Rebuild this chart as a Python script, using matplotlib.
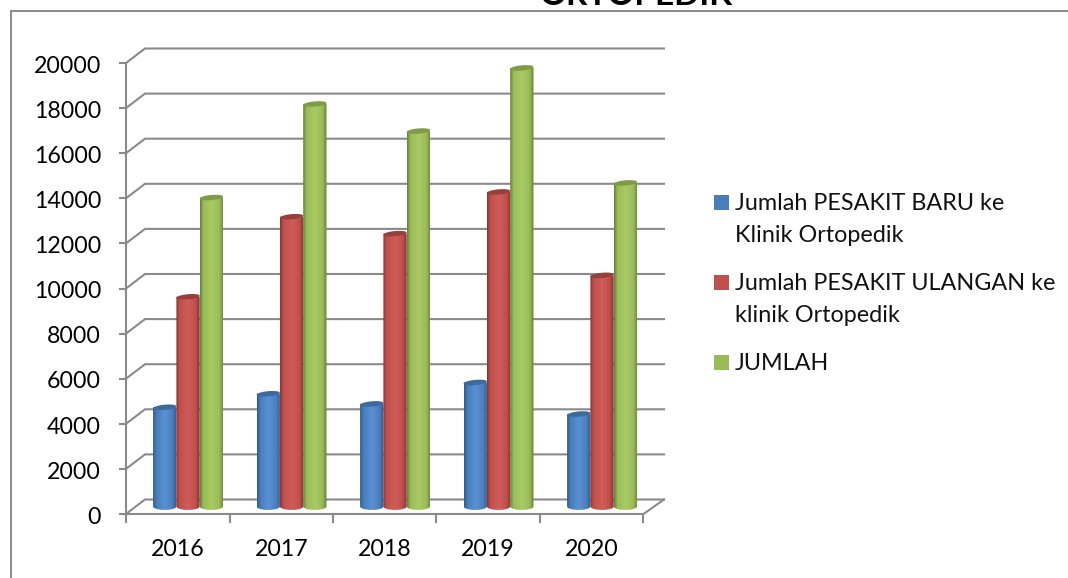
import numpy as np
import matplotlib
matplotlib.use("Agg")
import matplotlib.pyplot as plt
from matplotlib.path import Path
from matplotlib.patches import PathPatch, Rectangle
from matplotlib.colors import LinearSegmentedColormap

years = ["2016", "2017", "2018", "2019", "2020"]
baru = [4400, 5000, 4550, 5500, 4100]
ulangan = [9300, 12850, 12100, 13950, 10250]
jumlah = [13700, 17850, 16650, 19450, 14350]
series_names = ["Jumlah PESAKIT BARU ke\nKlinik Ortopedik",
                "Jumlah PESAKIT ULANGAN ke\nklinik Ortopedik",
                "JUMLAH"]
yticks = list(range(0, 20001, 2000))

W, H = 1068, 578
GRID = "#8a8a8a"
plt.rcParams["font.family"] = ["Lato", "DejaVu Sans"]
fig = plt.figure(figsize=(W / 100, H / 100), dpi=100)
fig.patch.set_facecolor("white")

fig.add_artist(Rectangle((11 / W, -0.05), 1.1, (H - 11) / H + 0.05, transform=fig.transFigure,
                         fill=False, ec=GRID, lw=1.4))

X0, X1, Y0, Y1 = 126, 643.5, 514, 63
ax = fig.add_axes([X0 / W, 1 - Y0 / H, (X1 - X0) / W, (Y0 - Y1) / H])
ax.axis("off")
ax.set_xlim(0, 5)
ax.set_ylim(0, 20000)

px_x = 5 / (X1 - X0)
px_y = 20000 / (Y0 - Y1)
dx = 19 * px_x
dy = 14.5 * px_y
back_end = (664 - X0) * px_x
lw = 1.5

for v in yticks:
    ax.plot([0, dx, back_end], [v, v + dy, v + dy], color=GRID, lw=lw, clip_on=False, zorder=1,
            solid_joinstyle="miter")
    ax.plot([-6 * px_x, 0], [v, v], color=GRID, lw=lw, clip_on=False, zorder=1)
    ax.text(-25 * px_x, v - 9.7 * px_y, str(v), ha="right", va="baseline", fontsize=16.7,
            color="black", clip_on=False)
ax.plot([0, 0], [0, 20000], color=GRID, lw=lw, clip_on=False, zorder=1)
ax.plot([0, 5, back_end], [0, 0, dy], color=GRID, lw=lw, clip_on=False, zorder=1)
for i in range(6):
    ax.plot([i, i], [0, -8 * px_y], color=GRID, lw=lw, clip_on=False, zorder=1)
for i, y in enumerate(years):
    ax.text(i + 0.5, -42 * px_y, y, ha="center", va="baseline", fontsize=16.7, color="black",
            clip_on=False)

palette = [
    ("#2f5a8a", "#4a7ebb", "#5a90d4", "#3d6a9c"),
    ("#853432", "#c0504d", "#d05c58", "#96403d"),
    ("#67803a", "#9bbb59", "#a8cb62", "#7f9a48"),
]
bar_w = 23.3 * px_x
ell = 3.4 * px_y
lid_h = 2.6 * px_y
tilt = 1.0 * px_y
bar_shift = 0.8 * px_x


def cylinder(x0, x1, base, top, cols, z):
    t = np.linspace(np.pi, 2 * np.pi, 40)
    cx, rx = (x0 + x1) / 2, (x1 - x0) / 2
    xs = cx + rx * np.cos(t)
    ys_low = base + ell * np.sin(t)
    verts = np.vstack([np.column_stack([xs, ys_low]),
                       [[x1, top], [x0, top]],
                       [[xs[0], ys_low[0]]]])
    body = Path(verts, closed=True)
    cmap = LinearSegmentedColormap.from_list(
        "c", [(0, cols[0]), (0.14, cols[1]), (0.5, cols[2]), (0.82, cols[1]), (1, cols[0])])
    im = ax.imshow(np.linspace(0, 1, 64)[None, :], cmap=cmap, aspect="auto",
                   extent=(x0, x1, base - ell, top + ell), zorder=z, interpolation="bilinear")
    im.set_clip_path(PathPatch(body, transform=ax.transData))
    t2 = np.linspace(0, 2 * np.pi, 60)
    lid = Path(np.column_stack([cx + rx * np.cos(t2),
                                top + lid_h * np.sin(t2) + tilt * np.cos(t2)]), closed=True)
    ax.add_patch(PathPatch(lid, fc=cols[3], ec="none", zorder=z + 0.1, clip_on=False))


values = [baru, ulangan, jumlah]
for i in range(5):
    start = i + 0.5 + dx / 2 - 1.5 * bar_w + bar_shift
    for s in range(3):
        cylinder(start + s * bar_w, start + (s + 1) * bar_w, 7.5 * px_y, values[s][i] + 7.5 * px_y,
                 palette[s], 3 + s)
ax.set_xlim(0, 5)
ax.set_ylim(0, 20000)

# legend
leg_square = [195, 275, 355]
leg_base = [[210, 242], [290, 322.5], [370.5]]
for s, name in enumerate(series_names):
    fig.add_artist(Rectangle((714 / W, 1 - (leg_square[s] + 15) / H), 15 / W, 15 / H,
                             transform=fig.transFigure, fc=palette[s][1], ec="none"))
    for line, by in zip(name.split("\n"), leg_base[s]):
        fig.text(735 / W, 1 - by / H, line, ha="left", va="baseline", fontsize=16.8, color="#111111")

fig.text(636 / W, 1 - 5 / H, "ORTOPEDIK", ha="center", va="baseline", fontsize=24, fontweight="bold",
         color="black")

fig.savefig("out.png", dpi=100)
